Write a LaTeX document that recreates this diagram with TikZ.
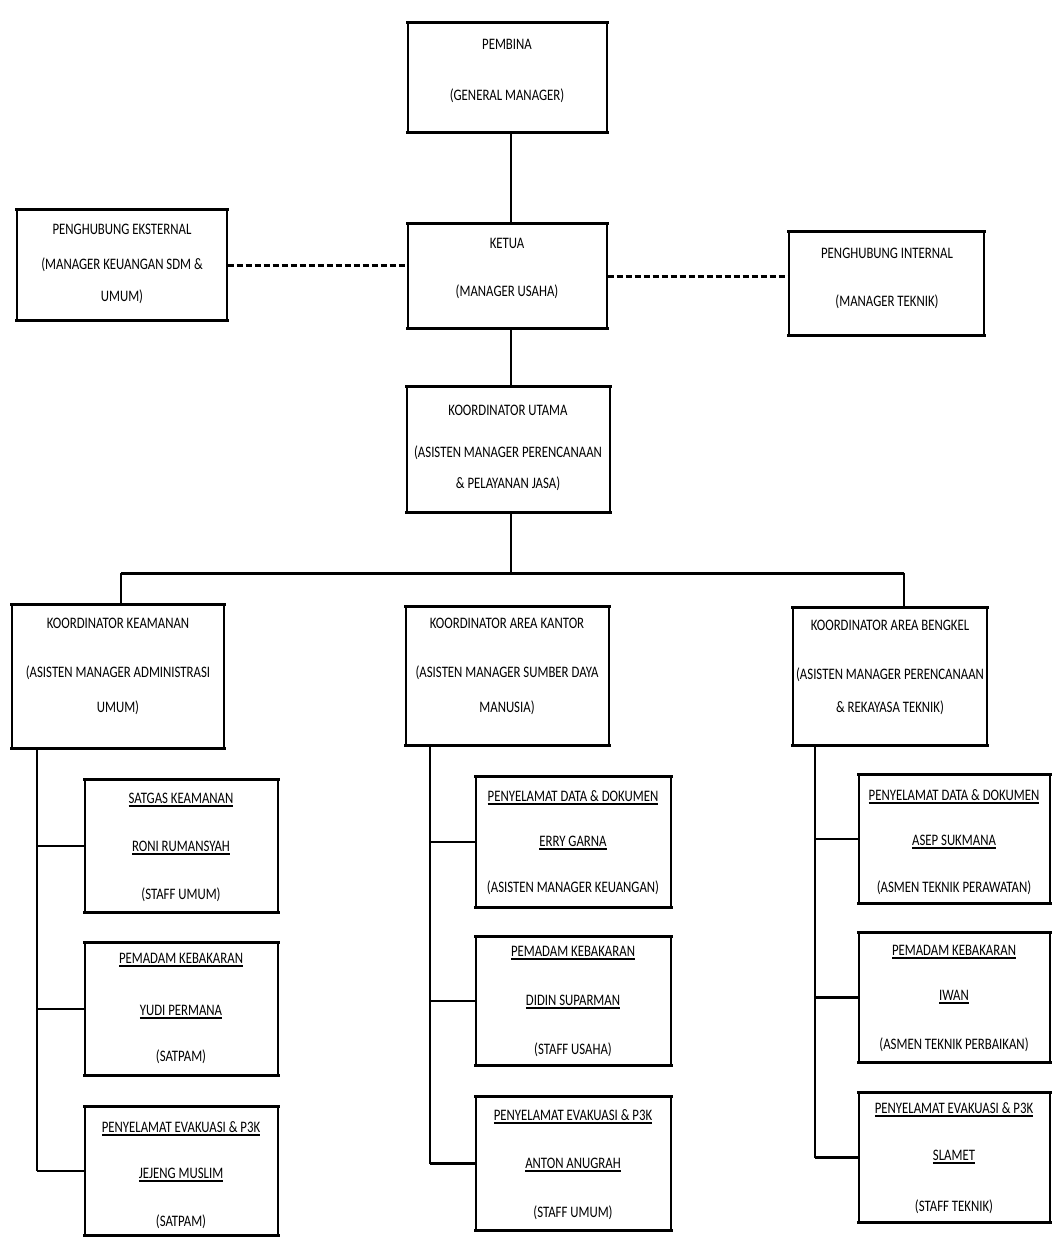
\documentclass[tikz,border=0pt]{standalone}
\usepackage{fontspec}
\setmainfont{Carlito}
\usetikzlibrary{fit}
\newcommand\myul[1]{\setbox0\hbox{#1}\rlap{\raisebox{-2.6pt}{\rule{\wd0}{1.3pt}}}\box0}
\newcommand\tx[1]{\scalebox{1}[1.25]{#1}}
\tikzset{
  box/.style={draw, line width=1.1pt, inner sep=0pt, fill=white},
  edgeline/.style={line width=2.6pt, line cap=rect},
  txt/.style={inner sep=0pt, font=\fontsize{12.8}{15}\selectfont, anchor=center},
  conn/.style={line width=1.5pt},
  branch/.style={line width=2.4pt},
  dconn/.style={line width=3pt, dash pattern=on 6pt off 3pt},
  busline/.style={line width=3pt},
}
\newcommand\bx[5]{%
  \node[box, fit={(#2,#3) (#4,#5)}] (#1) {};
  \draw[edgeline] (#1.north west) -- (#1.north east);
  \draw[edgeline] (#1.south west) -- (#1.south east);
}
\begin{document}
\begin{tikzpicture}[x=1pt,y=-1pt]
\useasboundingbox[fill=white] (0,0) rectangle (1054,1237);

% ---- boxes ----
\bx{pembina}{408}{23}{607}{132}
\bx{ketua}{408}{224}{607}{328}
\bx{ekst}{17}{210}{227}{320}
\bx{inter}{789}{232}{984}{335}
\bx{utama}{407}{387}{610}{512}
\bx{keamanan}{12}{605}{224}{748}
\bx{kantor}{406}{607}{609}{745}
\bx{bengkel}{793}{608}{987}{745}
\bx{L1}{85}{780}{278}{912}
\bx{L2}{85}{943}{278}{1075}
\bx{L3}{85}{1107}{278}{1235}
\bx{M1}{476}{777}{671}{907}
\bx{M2}{476}{937}{671}{1065}
\bx{M3}{476}{1097}{671}{1230}
\bx{R1}{859}{775}{1050}{903}
\bx{R2}{859}{933}{1050}{1062}
\bx{R3}{859}{1093}{1050}{1222}

% ---- texts ----
\node[txt] (pembina1) at (507,44) {\tx{PEMBINA}};
\node[txt] (pembina2) at (507,96) {\tx{(GENERAL MANAGER)}};
\node[txt] (ketua1) at (507,243) {\tx{KETUA}};
\node[txt] (ketua2) at (507,292) {\tx{(MANAGER USAHA)}};
\node[txt] (ekst1) at (122,229) {\tx{PENGHUBUNG EKSTERNAL}};
\node[txt] (ekst2) at (122,265) {\tx{(MANAGER KEUANGAN SDM \&}};
\node[txt] (ekst3) at (122,297) {\tx{UMUM)}};
\node[txt] (inter1) at (887,253) {\tx{PENGHUBUNG INTERNAL}};
\node[txt] (inter2) at (887,302) {\tx{(MANAGER TEKNIK)}};
\node[txt] (utama1) at (508,410) {\tx{KOORDINATOR UTAMA}};
\node[txt] (utama2) at (508,453) {\tx{(ASISTEN MANAGER PERENCANAAN}};
\node[txt] (utama3) at (508,484) {\tx{\& PELAYANAN JASA)}};
\node[txt] (kea1) at (118,623) {\tx{KOORDINATOR KEAMANAN}};
\node[txt] (kea2) at (118,673) {\tx{(ASISTEN MANAGER ADMINISTRASI}};
\node[txt] (kea3) at (118,708) {\tx{UMUM)}};
\node[txt] (kan1) at (507,623) {\tx{KOORDINATOR AREA KANTOR}};
\node[txt] (kan2) at (507,673) {\tx{(ASISTEN MANAGER SUMBER DAYA}};
\node[txt] (kan3) at (507,708) {\tx{MANUSIA)}};
\node[txt] (ben1) at (890,625) {\tx{KOORDINATOR AREA BENGKEL}};
\node[txt] (ben2) at (890,675) {\tx{(ASISTEN MANAGER PERENCANAAN}};
\node[txt] (ben3) at (890,708) {\tx{\& REKAYASA TEKNIK)}};

\node[txt] (L1a) at (181,800) {\tx{\myul{SATGAS KEAMANAN}}};
\node[txt] (L1b) at (181,848) {\tx{\myul{RONI RUMANSYAH}}};
\node[txt] (L1c) at (181,895) {\tx{(STAFF UMUM)}};
\node[txt] (L2a) at (181,960) {\tx{\myul{PEMADAM KEBAKARAN}}};
\node[txt] (L2b) at (181,1012) {\tx{\myul{YUDI PERMANA}}};
\node[txt] (L2c) at (181,1057) {\tx{(SATPAM)}};
\node[txt] (L3a) at (181,1129) {\tx{\myul{PENYELAMAT EVAKUASI \& P3K}}};
\node[txt] (L3b) at (181,1175) {\tx{\myul{JEJENG MUSLIM}}};
\node[txt] (L3c) at (181,1222) {\tx{(SATPAM)}};

\node[txt] (M1a) at (573,798) {\tx{\myul{PENYELAMAT DATA \& DOKUMEN}}};
\node[txt] (M1b) at (573,843) {\tx{\myul{ERRY GARNA}}};
\node[txt] (M1c) at (573,888) {\tx{(ASISTEN MANAGER KEUANGAN)}};
\node[txt] (M2a) at (573,953) {\tx{\myul{PEMADAM KEBAKARAN}}};
\node[txt] (M2b) at (573,1002) {\tx{\myul{DIDIN SUPARMAN}}};
\node[txt] (M2c) at (573,1050) {\tx{(STAFF USAHA)}};
\node[txt] (M3a) at (573,1117) {\tx{\myul{PENYELAMAT EVAKUASI \& P3K}}};
\node[txt] (M3b) at (573,1165) {\tx{\myul{ANTON ANUGRAH}}};
\node[txt] (M3c) at (573,1213) {\tx{(STAFF UMUM)}};

\node[txt] (R1a) at (954,797) {\tx{\myul{PENYELAMAT DATA \& DOKUMEN}}};
\node[txt] (R1b) at (954,842) {\tx{\myul{ASEP SUKMANA}}};
\node[txt] (R1c) at (954,888) {\tx{(ASMEN TEKNIK PERAWATAN)}};
\node[txt] (R2a) at (954,952) {\tx{\myul{PEMADAM KEBAKARAN}}};
\node[txt] (R2b) at (954,997) {\tx{\myul{IWAN}}};
\node[txt] (R2c) at (954,1045) {\tx{(ASMEN TEKNIK PERBAIKAN)}};
\node[txt] (R3a) at (954,1110) {\tx{\myul{PENYELAMAT EVAKUASI \& P3K}}};
\node[txt] (R3b) at (954,1157) {\tx{\myul{SLAMET}}};
\node[txt] (R3c) at (954,1207) {\tx{(STAFF TEKNIK)}};

% ---- connectors ----
\coordinate (spine) at (511,0);
\coordinate (busL) at (121,573);
\coordinate (busR) at (904,573);
\coordinate (busC) at (spine |- busL);
\draw[conn] (pembina.south -| spine) -- (ketua.north -| spine);
\draw[conn] (ketua.south -| spine) -- (utama.north -| spine);
\draw[dconn] (ekst.east) -- (ekst.east -| ketua.west);
\draw[dconn] (ketua.east) -- (ketua.east -| inter.west);
\draw[conn] (utama.south -| spine) -- (busC);
\draw[busline] (busL) -- (busR);
\draw[conn] (busL) -- (busL |- keamanan.north);
\draw[conn] (busR) -- (busR |- bengkel.north);

% left column
\coordinate (lv) at (37,0);
\draw[conn] (lv |- keamanan.south) -- (lv |- L3.west);
\draw[branch] (lv |- L1.west) -- (L1.west);
\draw[branch] (lv |- L2.west) -- (L2.west);
\draw[branch] (lv |- L3.west) -- (L3.west);
% middle column
\coordinate (mv) at (430,0);
\draw[conn] (mv |- kantor.south) -- (mv |- M3.west);
\draw[branch] (mv |- M1.west) -- (M1.west);
\draw[branch] (mv |- M2.west) -- (M2.west);
\draw[branch] (mv |- M3.west) -- (M3.west);
% right column
\coordinate (rv) at (815,0);
\draw[conn] (rv |- bengkel.south) -- (rv |- R3.west);
\draw[branch] (rv |- R1.west) -- (R1.west);
\draw[branch] (rv |- R2.west) -- (R2.west);
\draw[branch] (rv |- R3.west) -- (R3.west);
\end{tikzpicture}
\end{document}
